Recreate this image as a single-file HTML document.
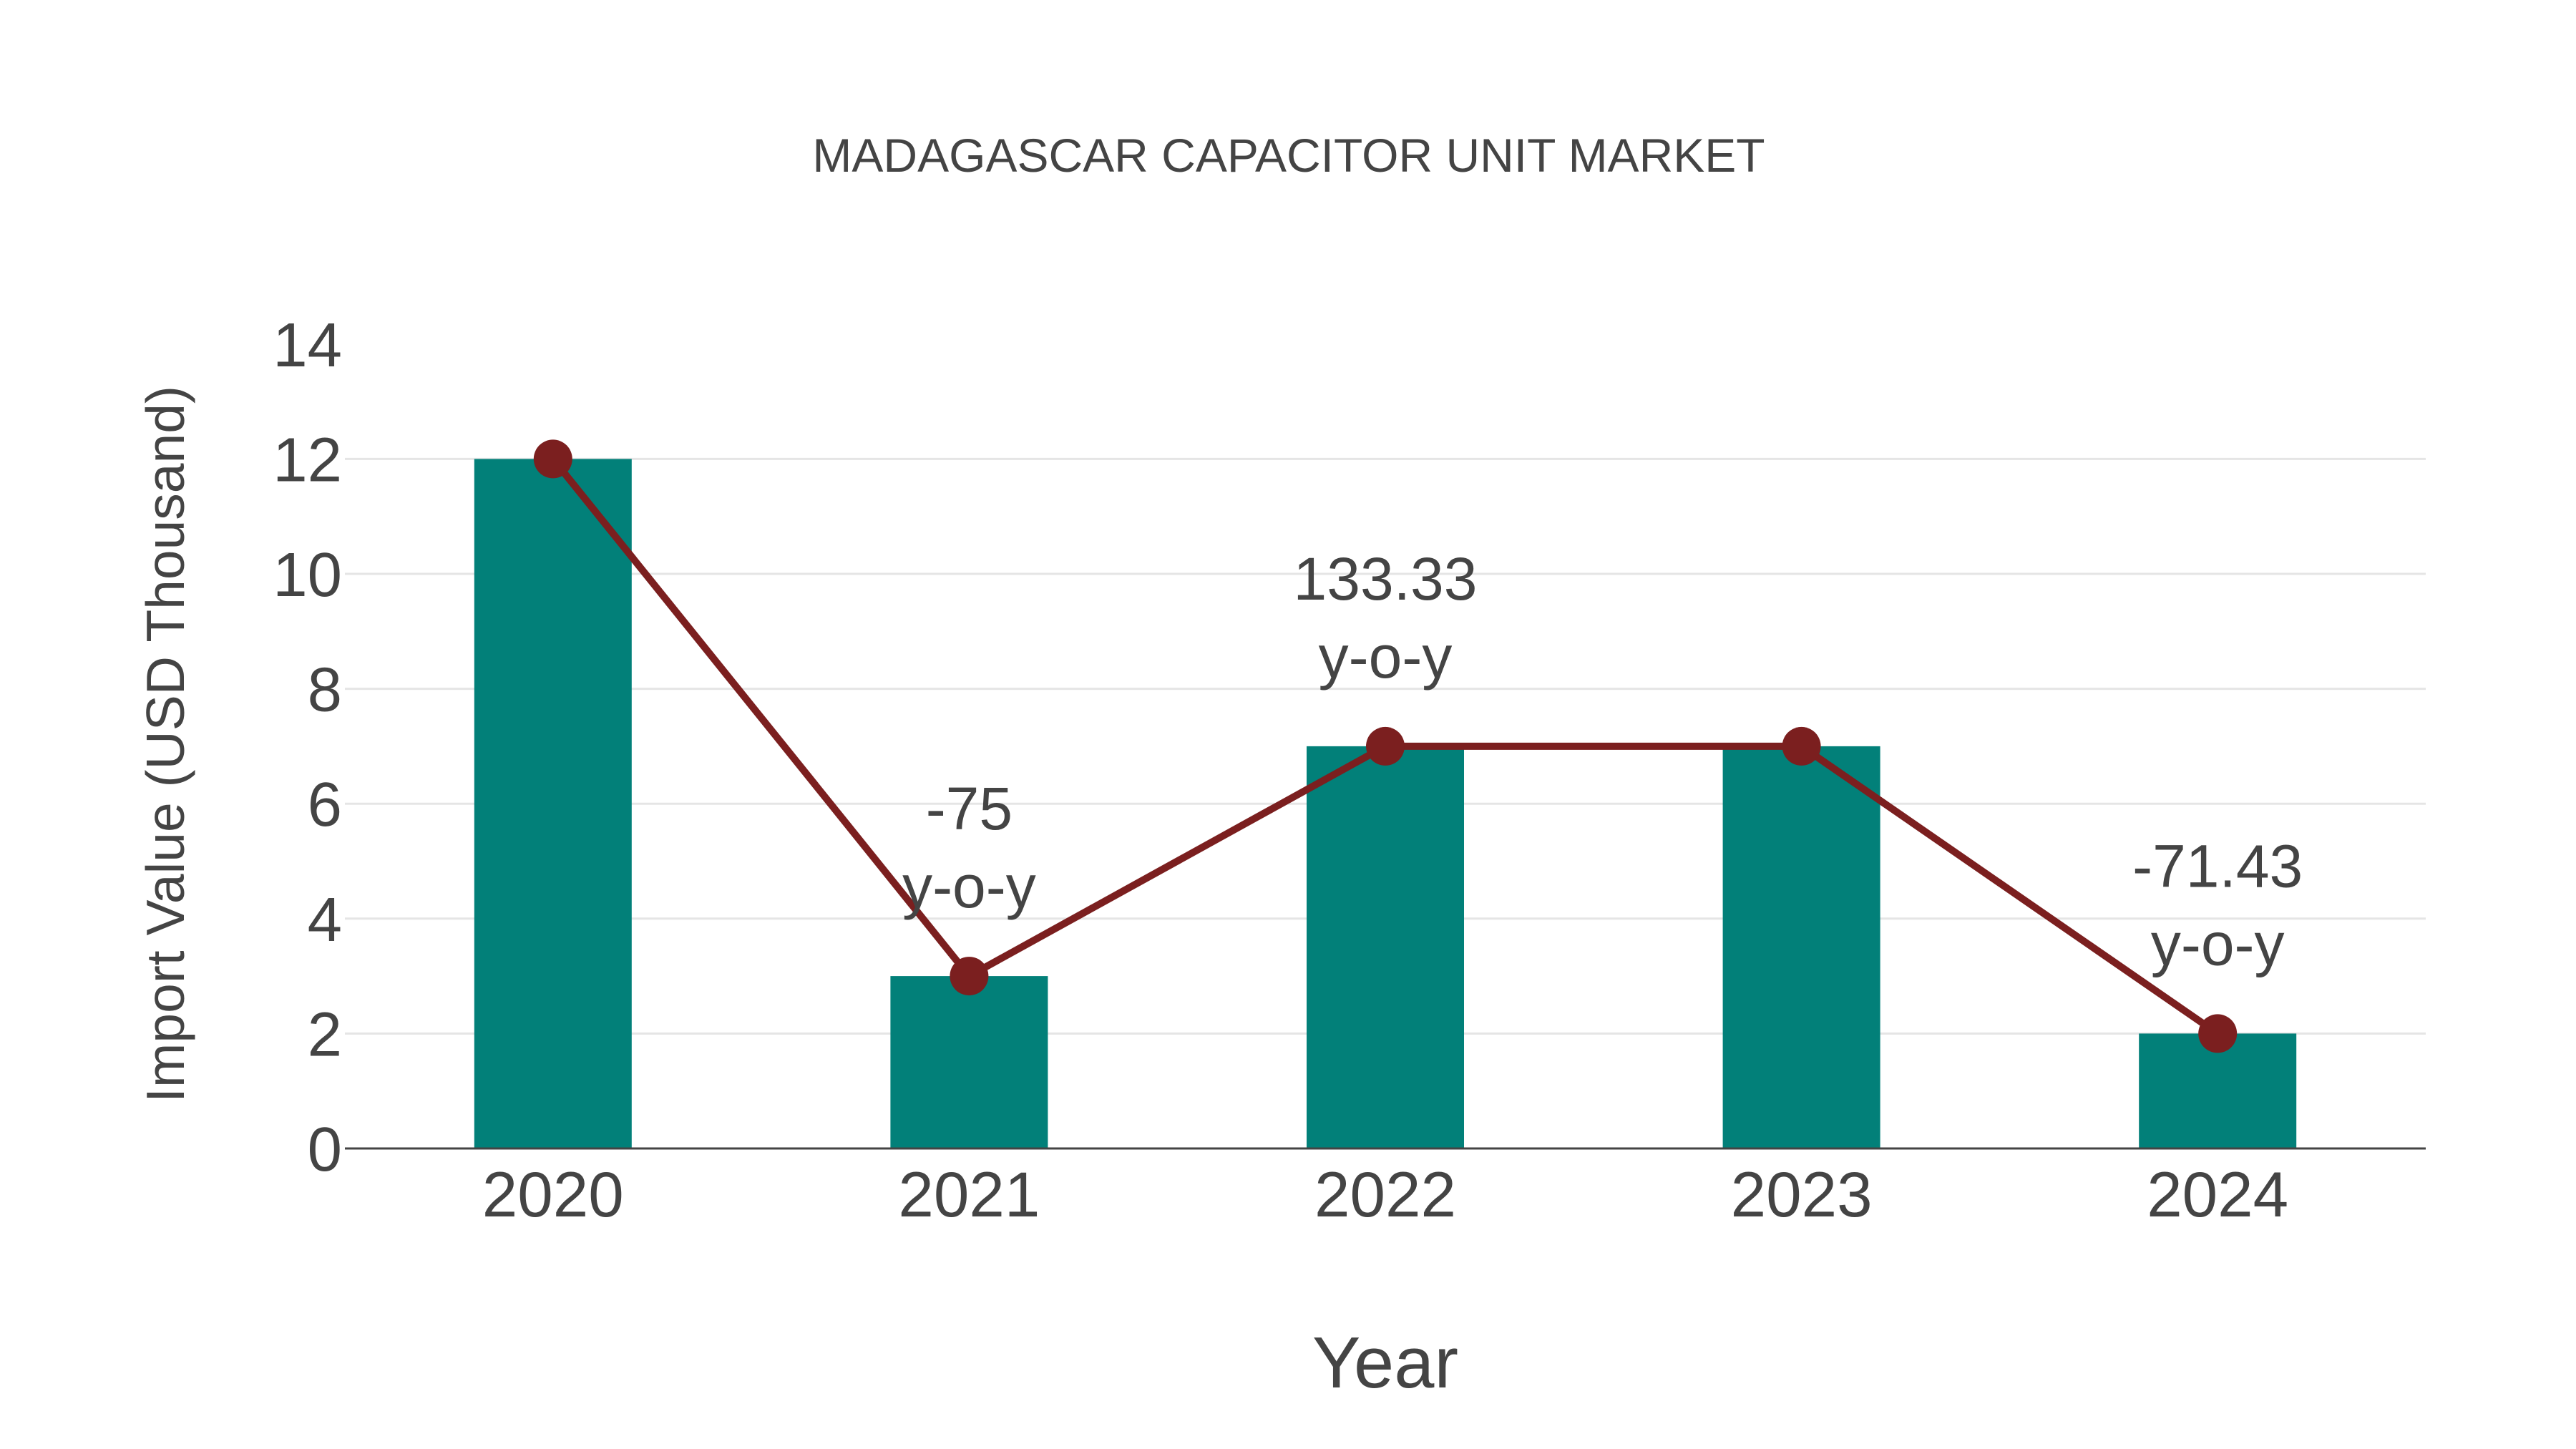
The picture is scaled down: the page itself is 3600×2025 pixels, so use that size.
<!DOCTYPE html>
<html><head><meta charset="utf-8"><style>html,body{margin:0;padding:0;background:#fff}svg{display:block}</style></head>
<body>
<svg id="chart" width="3600" height="2025" viewBox="0 0 3600 2025" xmlns="http://www.w3.org/2000/svg" font-family="Liberation Sans, sans-serif" fill="#444">
<text x="1801" y="240" font-size="66" text-anchor="middle">MADAGASCAR CAPACITOR UNIT MARKET</text>
<g id="grid"></g>
<g id="yticks"></g>
<g id="bars"></g>
<line x1="482" x2="3390" y1="1605" y2="1605" stroke="#444" stroke-width="3"/>
<g id="line"></g>
<g id="xticks"></g>
<g id="ann"></g>
<text x="1936" y="1939" font-size="101" text-anchor="middle">Year</text>
<text x="0" y="0" font-size="75" text-anchor="middle" transform="translate(257,1040) rotate(-90)">Import Value (USD Thousand)</text>
</svg>
<script>
const categories = ["2020","2021","2022","2023","2024"];
const values = [12,3,7,7,2];
const yoyLabels = ["","-75","133.33","","-71.43"];
const yTicks = [0,2,4,6,8,10,12,14];
const NS="http://www.w3.org/2000/svg";
const L=482,R=3390,Y0=1605,PU=80.3;
const step=(R-L)/categories.length;
const xs=i=>L+step*(i+0.5);
const ys=v=>Y0-v*PU;
function mk(t,a,p){const e=document.createElementNS(NS,t);for(const k in a)e.setAttribute(k,a[k]);p.appendChild(e);return e;}
const grid=document.getElementById('grid'),yt=document.getElementById('yticks'),bars=document.getElementById('bars'),lg=document.getElementById('line'),xt=document.getElementById('xticks'),ann=document.getElementById('ann');
yTicks.forEach(v=>{
  if(v>0&&v<14){const g=mk('line',{x1:L,x2:R,y1:ys(v),y2:ys(v),stroke:'#e5e5e5','stroke-width':3},grid);
  
  }
  const t=mk('text',{x:478,y:ys(v)+31,'font-size':87,'text-anchor':'end'},yt);t.textContent=v;
  
  
});
const bw=220;
values.forEach((v,i)=>{
  const b=mk('rect',{x:xs(i)-bw/2,y:ys(v),width:bw,height:Y0-ys(v),fill:'#028079'},bars);
  
  
  const t=mk('text',{x:xs(i),y:1700,'font-size':89,'text-anchor':'middle'},xt);t.textContent=categories[i];
  
  
});
const pl=mk('polyline',{points:values.map((v,i)=>xs(i)+','+ys(v)).join(' '),fill:'none',stroke:'#7b1f1f','stroke-width':10,'stroke-linejoin':'round'},lg);


values.forEach((v,i)=>{
  const c=mk('circle',{cx:xs(i),cy:ys(v),r:27,fill:'#7b1f1f'},lg);
  
  
  if(yoyLabels[i]){
    const a=mk('text',{x:xs(i),y:ys(v)-205,'font-size':84,'text-anchor':'middle'},ann);a.textContent=yoyLabels[i];
    
    
    const b2=mk('text',{x:xs(i),y:ys(v)-96,'font-size':84,'text-anchor':'middle'},ann);b2.textContent='y-o-y';
    
    
  }
});
</script>
</body></html>
